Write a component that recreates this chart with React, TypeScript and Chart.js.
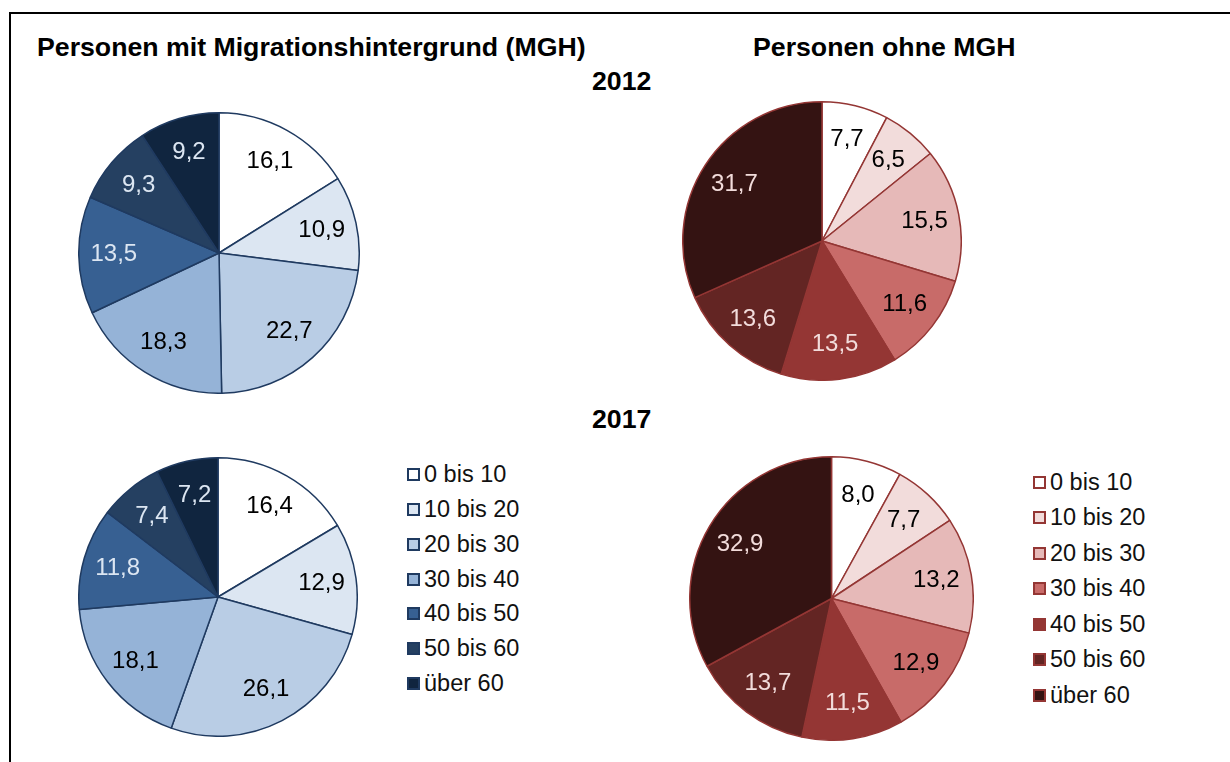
import React, { useEffect, useRef } from "react";
import { Chart, registerables } from "chart.js";

Chart.register(...registerables);

const categories = ["0 bis 10", "10 bis 20", "20 bis 30", "30 bis 40", "40 bis 50", "50 bis 60", "über 60"];
const mgh2012 = [16.1, 10.9, 22.7, 18.3, 13.5, 9.3, 9.2];
const ohne2012 = [7.7, 6.5, 15.5, 11.6, 13.5, 13.6, 31.7];
const mgh2017 = [16.4, 12.9, 26.1, 18.1, 11.8, 7.4, 7.2];
const ohne2017 = [8.0, 7.7, 13.2, 12.9, 11.5, 13.7, 32.9];

const blueColors = ["#ffffff", "#dce6f2", "#b9cde5", "#95b3d7", "#376092", "#254061", "#10253f"];
const blueBorder = "#1f3a60";
const blueLabelColors = ["#000000", "#000000", "#000000", "#000000", "#dce6f2", "#dce6f2", "#dce6f2"];
const redColors = ["#ffffff", "#f2dcdb", "#e6b9b8", "#c86b69", "#943634", "#632523", "#341312"];
const redBorder = "#943634";
const redLabelColors = ["#000000", "#000000", "#000000", "#000000", "#f2dcdb", "#f2dcdb", "#f2dcdb"];

const FONT = "'Liberation Sans', Arial, Helvetica, sans-serif";

const labelPlugin = {
  id: "sliceLabels",
  afterDatasetsDraw(chart: any) {
    const ctx = chart.ctx;
    const meta = chart.getDatasetMeta(0);
    const ds = chart.data.datasets[0];
    const labelColors: string[] = (chart.options.plugins as any).sliceLabels.colors;
    ctx.save();
    ctx.font = `24px ${FONT}`;
    ctx.textAlign = "center";
    ctx.textBaseline = "middle";
    meta.data.forEach((arc: any, i: number) => {
      const p = arc.getProps(["x", "y", "startAngle", "endAngle", "outerRadius"], true);
      const mid = (p.startAngle + p.endAngle) / 2;
      const r = p.outerRadius * 0.75;
      const x = p.x + Math.cos(mid) * r;
      const y = p.y + Math.sin(mid) * r;
      ctx.fillStyle = labelColors[i];
      const v = ds.data[i] as number;
      ctx.fillText(v.toFixed(1).replace(".", ","), x, y);
    });
    ctx.restore();
  },
};

type PieProps = {
  data: number[];
  colors: string[];
  border: string;
  labelColors: string[];
  left: number;
  top: number;
  size: number;
};

function Pie({ data, colors, border, labelColors, left, top, size }: PieProps) {
  const ref = useRef<HTMLCanvasElement | null>(null);
  useEffect(() => {
    if (!ref.current) return;
    const chart = new Chart(ref.current, {
      type: "pie",
      data: {
        labels: categories,
        datasets: [
          {
            data,
            backgroundColor: colors,
            borderColor: border,
            borderWidth: 1.5,
          },
        ],
      },
      options: {
        animation: false,
        responsive: false,
        maintainAspectRatio: false,
        layout: { padding: 0 },
        plugins: {
          legend: { display: false },
          tooltip: { enabled: false },
          sliceLabels: { colors: labelColors },
        } as any,
      },
      plugins: [labelPlugin],
    });
    return () => chart.destroy();
  }, []);
  return (
    <canvas
      ref={ref}
      width={size}
      height={size}
      style={{ position: "absolute", left, top, width: size, height: size }}
    />
  );
}

function Legend({ colors, border, left, top, spacing }: { colors: string[]; border: string; left: number; top: number; spacing: number }) {
  return (
    <div style={{ position: "absolute", left, top, fontFamily: FONT, fontSize: 23.5, color: "#111" }}>
      {categories.map((c, i) => (
        <div key={c} style={{ height: spacing, display: "flex", alignItems: "center", whiteSpace: "nowrap" }}>
          <span
            style={{
              display: "inline-block",
              boxSizing: "border-box",
              width: 13,
              height: 13,
              border: `2px solid ${border}`,
              background: colors[i],
              marginRight: 4,
            }}
          />
          <span>{c}</span>
        </div>
      ))}
    </div>
  );
}

const titleStyle: React.CSSProperties = {
  position: "absolute",
  fontFamily: FONT,
  fontWeight: "bold",
  fontSize: 26.7,
  lineHeight: "26px",
  whiteSpace: "nowrap",
  color: "#000",
};

export default function App() {
  return (
    <div style={{ position: "absolute", left: 0, top: 0, width: 1230, height: 762, overflow: "hidden", background: "#fff" }}>
      <div style={{ position: "absolute", left: 9, top: 12, width: 1400, height: 900, border: "2px solid #000" }} />
      <div style={{ ...titleStyle, left: 37, top: 34 }}>Personen mit Migrationshintergrund (MGH)</div>
      <div style={{ ...titleStyle, left: 753, top: 34 }}>Personen ohne MGH</div>
      <div style={{ ...titleStyle, left: 592, top: 68 }}>2012</div>
      <div style={{ ...titleStyle, left: 592, top: 406 }}>2017</div>

      <Pie data={mgh2012} colors={blueColors} border={blueBorder} labelColors={blueLabelColors} left={78} top={112} size={282} />
      <Pie data={ohne2012} colors={redColors} border={redBorder} labelColors={redLabelColors} left={682} top={101} size={280} />
      <Pie data={mgh2017} colors={blueColors} border={blueBorder} labelColors={blueLabelColors} left={78} top={457} size={280} />
      <Pie data={ohne2017} colors={redColors} border={redBorder} labelColors={redLabelColors} left={689} top={456} size={285} />

      <Legend colors={blueColors} border={blueBorder} left={407} top={475 - 17.4} spacing={34.7} />
      <Legend colors={redColors} border={redBorder} left={1033} top={482 - 17.7} spacing={35.5} />
    </div>
  );
}
